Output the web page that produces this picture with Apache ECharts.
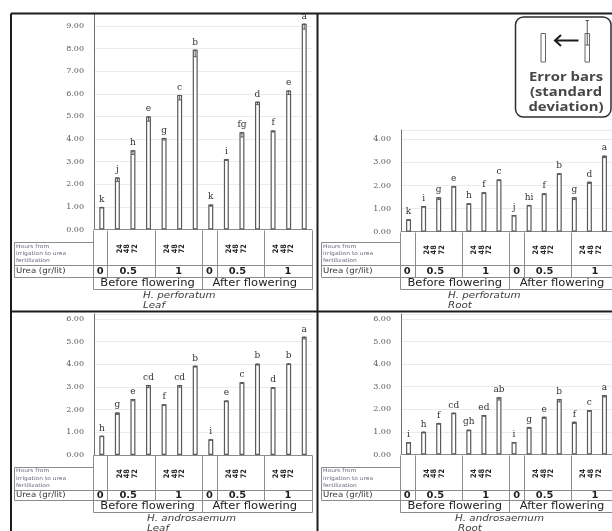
<!DOCTYPE html>
<html>
<head>
<meta charset="utf-8">
<script src="https://cdn.jsdelivr.net/npm/echarts@6/dist/echarts.min.js"></script>
<style>
  html, body { margin: 0; padding: 0; background: #fff; }
  #chart { width: 612px; height: 531px; }
</style>
</head>
<body>
<div id="chart"></div>
<script>
// Treatment order along each x axis: stage -> urea dose -> hours after irrigation
const categories = [
  'BF 0', 'BF 0.5 24h', 'BF 0.5 48h', 'BF 0.5 72h', 'BF 1 24h', 'BF 1 48h', 'BF 1 72h',
  'AF 0', 'AF 0.5 24h', 'AF 0.5 48h', 'AF 0.5 72h', 'AF 1 24h', 'AF 1 48h', 'AF 1 72h'
];
const hoursTicks = ['24', '48', '72'];
const ureaLevels = ['0', '0.5', '1'];
const stages = ['Before flowering', 'After flowering'];

// H. perforatum – leaf
const perforatumLeaf = [1.00, 2.30, 3.50, 5.00, 4.05, 5.95, 7.95, 1.10, 3.12, 4.30, 5.65, 4.38, 6.15, 9.10];
const perforatumLeafSd = [0.05, 0.18, 0.18, 0.21, 0.09, 0.22, 0.31, 0.07, 0.07, 0.21, 0.13, 0.07, 0.18, 0.24];
const perforatumLeafGroups = ['k', 'j', 'h', 'e', 'g', 'c', 'b', 'k', 'i', 'fg', 'd', 'f', 'e', 'a'];

// H. perforatum – root
const perforatumRoot = [0.54, 1.11, 1.49, 1.98, 1.23, 1.71, 2.26, 0.72, 1.16, 1.66, 2.53, 1.49, 2.16, 3.29];
const perforatumRootSd = [0.04, 0.05, 0.10, 0.05, 0.05, 0.06, 0.05, 0.04, 0.05, 0.06, 0.05, 0.10, 0.07, 0.08];
const perforatumRootGroups = ['k', 'i', 'g', 'e', 'h', 'f', 'c', 'j', 'hi', 'f', 'b', 'g', 'd', 'a'];

// H. androsaemum – leaf
const androsaemumLeaf = [0.85, 1.87, 2.47, 3.09, 2.24, 3.09, 3.94, 0.69, 2.40, 3.21, 4.03, 2.99, 4.04, 5.22];
const androsaemumLeafSd = [0.04, 0.08, 0.08, 0.12, 0.05, 0.10, 0.06, 0.04, 0.05, 0.05, 0.06, 0.05, 0.05, 0.10];
const androsaemumLeafGroups = ['h', 'g', 'e', 'cd', 'f', 'cd', 'b', 'i', 'e', 'c', 'b', 'd', 'b', 'a'];

// H. androsaemum – root
const androsaemumRoot = [0.55, 1.01, 1.40, 1.85, 1.10, 1.75, 2.53, 0.55, 1.22, 1.67, 2.46, 1.45, 1.97, 2.63];
const androsaemumRootSd = [0.04, 0.05, 0.06, 0.05, 0.05, 0.06, 0.12, 0.04, 0.06, 0.07, 0.13, 0.08, 0.06, 0.08];
const androsaemumRootGroups = ['i', 'h', 'f', 'cd', 'gh', 'ed', 'ab', 'i', 'g', 'e', 'b', 'f', 'c', 'a'];

// ---- layout -------------------------------------------------------------
const leftCols = [92.9, 107.3, 155, 202.2, 216.6, 264.2, 311.5];
const rightCols = leftCols.map(x => x + 307.2);

const panels = [
  { data: perforatumLeaf, sd: perforatumLeafSd, groups: perforatumLeafGroups,
    species: 'H. perforatum', organ: 'Leaf', max: 9.55,
    grid: { left: 94, width: 218, top: 13.5, height: 216 },
    table: { x0: 14, cols: leftCols, hdrTop: 242, hoursBot: 265, ureaBot: 276.5, stageBot: 288.5, t1: 296, t2: 305.5, tx: 143, tx2: 143 } },
  { data: perforatumRoot, sd: perforatumRootSd, groups: perforatumRootGroups,
    species: 'H. perforatum', organ: 'Root', max: 4.40,
    grid: { left: 401, width: 217.6, top: 130, height: 101.7 },
    table: { x0: 321, cols: rightCols, hdrTop: 242, hoursBot: 265, ureaBot: 276.5, stageBot: 288.5, t1: 296, t2: 305.5, tx: 448, tx2: 448 } },
  { data: androsaemumLeaf, sd: androsaemumLeafSd, groups: androsaemumLeafGroups,
    species: 'H. androsaemum', organ: 'Leaf', max: 6.22,
    grid: { left: 94, width: 218, top: 314, height: 141 },
    table: { x0: 14, cols: leftCols, hdrTop: 467, hoursBot: 489.5, ureaBot: 500, stageBot: 512, t1: 518.5, t2: 528.5, tx: 147, tx2: 147 } },
  { data: androsaemumRoot, sd: androsaemumRootSd, groups: androsaemumRootGroups,
    species: 'H. androsaemum', organ: 'Root', max: 6.22,
    grid: { left: 401, width: 217.6, top: 314, height: 140.5 },
    table: { x0: 321, cols: rightCols, hdrTop: 467, hoursBot: 489.5, ureaBot: 500, stageBot: 512, t1: 519, t2: 529, tx: 455, tx2: 458 } }
];

const SANS = 'DejaVu Sans';
const SERIF = 'DejaVu Serif';
const px = v => Math.round(v) + 0.5;

function line(x1, y1, x2, y2, stroke, w) {
  return { type: 'line', silent: true, z: 5,
    shape: { x1, y1, x2, y2 },
    style: { stroke: stroke || '#8c8c8c', lineWidth: w || 1 } };
}
function text(x, y, str, o) {
  o = o || {};
  return { type: 'text', silent: true, z: 6, x, y,
    rotation: o.rot || 0, scaleX: o.sx || 1, scaleY: o.sy || 1,
    style: { text: str, x: 0, y: 0,
      fontFamily: o.family || SANS, fontSize: o.size || 8,
      fontWeight: o.weight || 'normal', fontStyle: o.style || 'normal',
      fill: o.color || '#222', align: o.align || 'center', verticalAlign: 'middle',
      lineHeight: o.lh } };
}

// treatment table drawn under each plot
function tableElements(p) {
  const t = p.table, c = t.cols;
  const base = p.grid.top + p.grid.height;
  const els = [];
  // horizontal rules
  els.push(line(px(t.x0), px(t.hdrTop), px(c[0]), px(t.hdrTop)));
  els.push(line(px(t.x0), px(t.hoursBot), px(c[6]), px(t.hoursBot)));
  els.push(line(px(t.x0), px(t.ureaBot), px(c[6]), px(t.ureaBot)));
  els.push(line(px(c[0]), px(t.stageBot), px(c[6]), px(t.stageBot)));
  // vertical rules
  c.forEach(x => els.push(line(px(x), px(base), px(x), px(t.ureaBot))));
  els.push(line(px(t.x0), px(t.hdrTop), px(t.x0), px(t.ureaBot)));
  [c[0], c[3], c[6]].forEach(x => els.push(line(px(x), px(t.ureaBot), px(x), px(t.stageBot))));

  // row headers
  els.push(text(t.x0 + 2, (t.hdrTop + t.hoursBot) / 2, 'Hours from\nirrigation to urea\nfertilization',
    { size: 5.2, color: '#5f6675', align: 'left', lh: 7.2, sx: 1.15 }));
  els.push(text(t.x0 + 2, (t.hoursBot + t.ureaBot) / 2 + 0.5, 'Urea (gr/lit)',
    { size: 7.8, color: '#333', align: 'left', sx: 1.1 }));

  // hours labels, written bottom-to-top in the dosed cells
  const hoursMid = (base + t.hoursBot) / 2 + 1.5;
  [[1, 2], [2, 3], [4, 5], [5, 6]].forEach(([a, b]) => {
    const cx = (c[a] + c[b]) / 2 - 4;
    hoursTicks.forEach((h, k) => {
      els.push(text(cx + (k - 1) * 7.6, hoursMid, h,
        { size: 6.6, weight: 'bold', color: '#262626', rot: Math.PI / 2, sy: 1.15 }));
    });
  });

  // urea doses
  const ureaMid = (t.hoursBot + t.ureaBot) / 2 + 0.5;
  for (let s = 0; s < 2; s++) {
    ureaLevels.forEach((u, k) => {
      const a = s * 3 + k;
      els.push(text((c[a] + c[a + 1]) / 2 - (k === 1 ? 3 : 0), ureaMid, u,
        { size: 9, weight: 'bold', color: '#1f1f1f', sx: 1.1 }));
    });
  }
  // growth stages
  const stageMid = (t.ureaBot + t.stageBot) / 2 + 0.5;
  stages.forEach((s, k) => {
    els.push(text((c[k * 3] + c[k * 3 + 3]) / 2 - k * 2, stageMid, s,
      { size: 9.6, color: '#222', sx: 1.2 }));
  });
  // species and organ
  els.push(text(t.tx, t.t1, p.species, { size: 9.4, style: 'italic', color: '#3a3a3a', align: 'left', sx: 1.1 }));
  els.push(text(t.tx2, t.t2, p.organ, { size: 9.4, style: 'italic', color: '#3a3a3a', align: 'left', sx: 1.1 }));
  return els;
}

const grid = [], xAxis = [], yAxis = [], series = [], elements = [];

panels.forEach((p, i) => {
  grid.push(Object.assign({ containLabel: false }, p.grid));
  xAxis.push({
    type: 'category', gridIndex: i, data: categories,
    axisLine: { show: true, lineStyle: { color: '#8c8c8c', width: 1 } },
    axisTick: { show: false }, axisLabel: { show: false }, splitLine: { show: false }
  });
  yAxis.push({
    type: 'value', gridIndex: i, min: 0, max: p.max, interval: 1,
    axisLine: { show: true, lineStyle: { color: '#707070', width: 1 } },
    axisTick: { show: false },
    axisLabel: { formatter: v => v.toFixed(2), fontFamily: SERIF, fontSize: 8,
      color: '#5a5a5a', margin: 10, showMaxLabel: false },
    splitLine: { show: true, lineStyle: { color: '#ebebeb', width: 1 } }
  });
  series.push({
    type: 'bar', xAxisIndex: i, yAxisIndex: i, data: p.data, barWidth: 5,
    itemStyle: { color: '#ffffff', borderColor: '#5a5a5a', borderWidth: 1.2 },
    label: { show: true, position: 'top', distance: 3,
      formatter: prm => p.groups[prm.dataIndex],
      fontFamily: SERIF, fontSize: 9, color: '#333' },
    z: 2
  });
  // standard deviation whiskers, drawn down from each bar top
  series.push({
    type: 'custom', xAxisIndex: i, yAxisIndex: i, z: 3, silent: true,
    data: p.data.map((v, k) => [k, v, p.sd[k]]),
    renderItem: (params, api) => {
      const top = api.coord([api.value(0), api.value(1)]);
      const bot = api.coord([api.value(0), api.value(1) - api.value(2)]);
      const st = { stroke: '#5a5a5a', lineWidth: 1 };
      return { type: 'group', children: [
        { type: 'line', shape: { x1: top[0], y1: top[1], x2: top[0], y2: bot[1] }, style: st },
        { type: 'line', shape: { x1: top[0] - 1.5, y1: top[1] + 0.5, x2: top[0] + 1.5, y2: top[1] + 0.5 }, style: st },
        { type: 'line', shape: { x1: top[0] - 1.5, y1: bot[1], x2: top[0] + 1.5, y2: bot[1] }, style: st }
      ] };
    }
  });
  elements.push(...tableElements(p));
});

// figure frame
const FRAME = '#1c1c1c';
elements.push(line(11, 13.5, 612, 13.5, FRAME, 2));
elements.push(line(11, 13.5, 11, 531, FRAME, 2));
elements.push(line(317.5, 13.5, 317.5, 531, FRAME, 2));
elements.push(line(11, 311.5, 612, 311.5, FRAME, 2));

// error-bar key
elements.push({ type: 'rect', silent: true, z: 5,
  shape: { x: 515.5, y: 17, width: 95.5, height: 100, r: 8 },
  style: { fill: '#fff', stroke: '#2e2e2e', lineWidth: 1.5 } });
elements.push({ type: 'rect', silent: true, z: 6, shape: { x: 541, y: 33.5, width: 4.5, height: 28.5 },
  style: { fill: '#fff', stroke: '#666', lineWidth: 1 } });
elements.push(line(543.25, 33.5, 543.25, 45, '#555', 1));
elements.push(line(541.5, 45, 545, 45, '#555', 1));
elements.push({ type: 'rect', silent: true, z: 6, shape: { x: 585, y: 33.5, width: 4.5, height: 28.5 },
  style: { fill: '#fff', stroke: '#666', lineWidth: 1 } });
elements.push(Object.assign(line(587.25, 20.5, 587.25, 45, '#555', 1), { z: 7 }));
elements.push(Object.assign(line(585.5, 20.5, 589, 20.5, '#555', 1), { z: 7 }));
elements.push(Object.assign(line(585.5, 45, 589, 45, '#555', 1), { z: 7 }));
elements.push(line(555, 40.5, 578.5, 40.5, '#1a1a1a', 2));
elements.push({ type: 'polyline', silent: true, z: 7,
  shape: { points: [[561, 35], [555, 40.5], [561, 46]] },
  style: { stroke: '#1a1a1a', lineWidth: 2, fill: null } });
['Error bars', '(standard', 'deviation)'].forEach((s, k) => {
  elements.push(text(566, 77.5 + k * 14.8, s,
    { family: 'Open Sans', size: 12.6, weight: 'bold', color: '#474747', sx: 1.18 }));
});

const chart = echarts.init(document.getElementById('chart'), null, { renderer: 'canvas' });
chart.setOption({
  animation: false,
  backgroundColor: '#ffffff',
  grid, xAxis, yAxis, series,
  graphic: { elements }
});
</script>
</body>
</html>
